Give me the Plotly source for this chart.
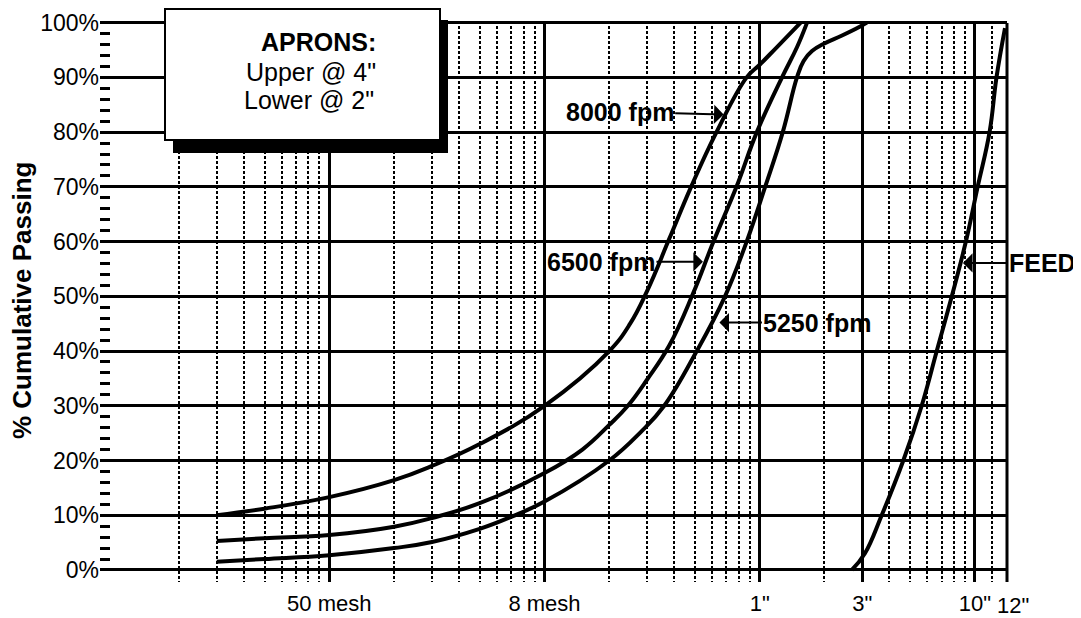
import math
import plotly.graph_objects as go

# ---------------- data ----------------
# particle size in inches (log scale), % cumulative passing
size_8000 = [0.003, 0.005, 0.01, 0.02, 0.03, 0.05, 0.1, 0.2, 0.25, 0.3, 0.38, 0.48, 0.63, 0.87, 1.0, 1.2, 1.55]
pass_8000 = [10.0, 11.2, 13.3, 16.4, 19.0, 23.0, 30.0, 40.0, 45.0, 51.0, 60.5, 70.0, 80.0, 90.0, 92.3, 95.5, 100.0]

size_6500 = [0.003, 0.005, 0.01, 0.02, 0.03, 0.05, 0.1, 0.15, 0.2, 0.244, 0.3, 0.38, 0.49, 0.61, 0.78, 0.97, 1.27, 1.49, 1.66]
pass_6500 = [5.3, 5.8, 6.4, 7.9, 9.5, 12.2, 17.7, 22.0, 26.5, 30.0, 34.8, 41.0, 50.5, 60.0, 70.0, 80.0, 90.0, 95.5, 100.0]

size_5250 = [0.003, 0.005, 0.01, 0.02, 0.03, 0.05, 0.07, 0.1, 0.2, 0.28, 0.36, 0.51, 0.69, 0.87, 1.06, 1.28, 1.49, 1.6, 1.75, 2.0, 2.4, 2.9, 3.15]
pass_5250 = [1.5, 2.0, 2.7, 4.0, 5.1, 7.5, 9.7, 12.5, 20.0, 25.2, 30.0, 40.0, 50.0, 60.0, 70.0, 80.0, 90.0, 93.0, 94.8, 96.2, 97.6, 99.2, 100.0]

size_feed = [2.68, 3.08, 3.69, 4.65, 5.66, 6.65, 7.81, 9.08, 10.3, 11.7, 12.6, 13.8]
pass_feed = [0.0, 3.0, 10.0, 20.0, 30.0, 40.0, 50.0, 60.0, 70.0, 80.0, 90.0, 99.0]

series_names = ["8000 fpm", "6500 fpm", "5250 fpm", "FEED"]

x_tick_vals = [0.01, 0.1, 1, 3, 10]
x_tick_text = ["50 mesh", "8 mesh", '1"', '3"', '10"']
x_minor_vals = ([m * 0.001 for m in range(2, 10)] + [m * 0.01 for m in range(2, 10)]
                + [m * 0.1 for m in range(2, 10)] + [2, 4, 5, 6, 7, 8, 9, 12])
x_extra_label = '12"'
x_extra_val = 12
x_min, x_max = 0.00086, 14.1

y_tick_vals = list(range(0, 101, 10))
y_tick_text = [f"{v}%" for v in y_tick_vals]
y_minor_vals = [v for v in range(2, 100, 2) if v % 10]

# ---------------- layout helpers ----------------
# the page body has an 8px margin, so the figure is drawn 8px in from the window corner
OFF = 8
W, H = 1081 - OFF, 618 - OFF
PL, PR, PT, PB = 100, 1007, 21, 582          # plot area in window pixels
ML, MR, MT, MB = PL - OFF, 1081 - PR, PT - OFF, OFF + H - PB
PW, PH = PR - PL, PB - PT


def px_x(px):
    return (px - PL) / PW


def px_y(py):
    return (PB - py) / PH


LINE = dict(color="black", width=4, shape="spline", smoothing=1.2)
FONT = "Liberation Sans, Arial, sans-serif"

fig = go.Figure()
for name, xs, ys in [(series_names[0], size_8000, pass_8000),
                     (series_names[1], size_6500, pass_6500),
                     (series_names[2], size_5250, pass_5250),
                     (series_names[3], size_feed, pass_feed)]:
    fig.add_trace(go.Scatter(x=xs, y=ys, mode="lines", name=name, line=LINE,
                             hoverinfo="x+y+name"))

fig.update_layout(
    width=W, height=H,
    margin=dict(l=ML, r=MR, t=MT, b=MB, pad=0, autoexpand=False),
    paper_bgcolor="white", plot_bgcolor="white",
    showlegend=False,
    font=dict(family=FONT, color="black"),
    xaxis=dict(
        type="log", range=[math.log10(x_min), math.log10(x_max)],
        tickmode="array", tickvals=x_tick_vals, ticktext=x_tick_text,
        ticks="", showline=False, zeroline=False,
        showgrid=True, gridcolor="black", gridwidth=2.5,
        tickfont=dict(size=22, family=FONT),
        ticklabelstandoff=6,
        minor=dict(tickvals=x_minor_vals, showgrid=True, gridcolor="black",
                   gridwidth=2, griddash="3px,2px", ticks=""),
    ),
    yaxis=dict(
        range=[-2.2, 100.3],
        tickmode="array", tickvals=y_tick_vals, ticktext=y_tick_text,
        ticks="", showline=False, zeroline=False,
        showgrid=True, gridcolor="black", gridwidth=2.5,
        tickfont=dict(size=23, family=FONT),
        minor=dict(tickvals=y_minor_vals, ticks="inside", ticklen=10,
                   tickwidth=2.5, tickcolor="black", showgrid=False),
    ),
)

shapes = [
    # right border of the chart
    dict(type="line", xref="paper", yref="paper", x0=1, x1=1, y0=0, y1=px_y(23),
         line=dict(color="black", width=3)),
    # legend box shadow
    dict(type="rect", xref="paper", yref="paper",
         x0=px_x(173), x1=px_x(448), y0=px_y(153), y1=px_y(20),
         fillcolor="black", line=dict(width=0), layer="above"),
    # legend box
    dict(type="rect", xref="paper", yref="paper",
         x0=px_x(165), x1=px_x(440), y0=px_y(140), y1=px_y(9),
         fillcolor="white", line=dict(color="black", width=2), layer="above"),
]
fig.update_layout(shapes=shapes)

annotations = [
    # y-axis title
    dict(text="<b>% Cumulative Passing</b>", xref="paper", yref="paper",
         x=px_x(22), y=px_y(301), textangle=-90, showarrow=False,
         xanchor="center", yanchor="middle", font=dict(size=26, family=FONT)),
    # extra x label
    dict(text=x_extra_label, xref="x", yref="paper", x=math.log10(x_extra_val),
         y=px_y(605), xshift=21, showarrow=False, xanchor="center", yanchor="middle",
         font=dict(size=22, family=FONT)),
    # box text
    dict(text="<b>APRONS:</b>", xref="paper", yref="paper", x=px_x(378), y=px_y(42),
         showarrow=False, xanchor="right", yanchor="middle", font=dict(size=25, family=FONT)),
    dict(text='Upper @ 4"', xref="paper", yref="paper", x=px_x(378), y=px_y(72),
         showarrow=False, xanchor="right", yanchor="middle", font=dict(size=25, family=FONT)),
    dict(text='Lower @ 2"', xref="paper", yref="paper", x=px_x(376), y=px_y(100),
         showarrow=False, xanchor="right", yanchor="middle", font=dict(size=25, family=FONT)),
]

# curve labels with arrows: (label, arrow tip size, arrow tip %passing, text offset px)
curve_labels = [
    (series_names[0], 0.68, 83.2, -104, -3),
    (series_names[1], 0.545, 56.3, -102, 0),
    (series_names[2], 0.65, 45.2, 98, 0),
    (series_names[3], 8.8, 56.1, 80, 0),
]
for text, xv, yv, axp, ayp in curve_labels:
    annotations.append(dict(
        text=f"<b>{text}</b>", xref="x", yref="y", x=math.log10(xv), y=yv,
        ax=axp, ay=ayp, showarrow=True, arrowhead=1, arrowsize=1.6, arrowwidth=2,
        arrowcolor="black", standoff=0, font=dict(size=25, family=FONT),
    ))

fig.update_layout(annotations=annotations)

fig.write_html("out.html")
